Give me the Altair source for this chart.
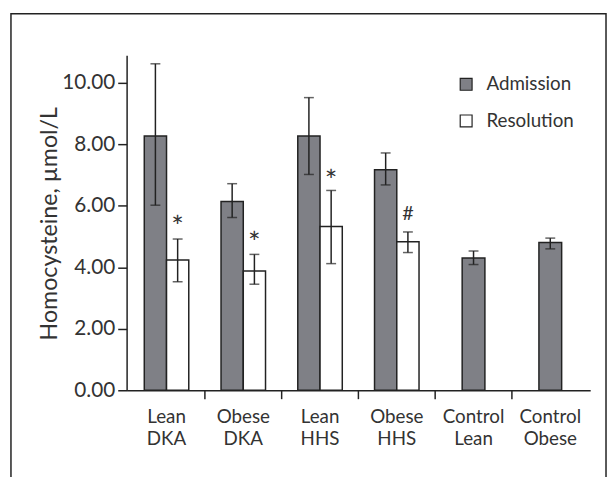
import altair as alt
import pandas as pd

categories = ["Lean DKA", "Obese DKA", "Lean HHS", "Obese HHS", "Control Lean", "Control Obese"]
series = ["Admission", "Resolution"]

admission = [8.27, 6.14, 8.27, 7.17, 4.30, 4.81]
admission_low = [6.02, 5.62, 7.02, 6.68, 4.09, 4.60]
admission_high = [10.62, 6.72, 9.52, 7.72, 4.53, 4.95]

resolution = [4.24, 3.88, 5.33, 4.83]
resolution_low = [3.53, 3.45, 4.12, 4.48]
resolution_high = [4.92, 4.42, 6.50, 5.15]

star_cats = ["Lean DKA", "Obese DKA", "Lean HHS"]
star_y = [4.98, 4.46, 6.49]
hash_cats = ["Obese HHS"]
hash_y = [5.55]

y_ticks = [0, 2, 4, 6, 8, 10]

FONT = "Lato"
INK = "#222222"
GRAY = "#7f8086"
TXT = "#333333"

rows = []
for i, c in enumerate(categories[:4]):
    rows.append({"cat": c, "series": "Admission", "v": admission[i], "lo": admission_low[i], "hi": admission_high[i]})
    rows.append({"cat": c, "series": "Resolution", "v": resolution[i], "lo": resolution_low[i], "hi": resolution_high[i]})
grouped = pd.DataFrame(rows)

control = pd.DataFrame({
    "cat": categories[4:],
    "series": ["Admission", "Admission"],
    "v": admission[4:],
    "lo": admission_low[4:],
    "hi": admission_high[4:],
})

stars = pd.DataFrame({"cat": star_cats, "series": ["Resolution"] * len(star_cats), "txt": ["*"] * len(star_cats), "y": star_y})
hashes = pd.DataFrame({"cat": hash_cats, "series": ["Resolution"] * len(hash_cats), "txt": ["#"] * len(hash_cats), "y": hash_y})
bounds = pd.DataFrame({"cat": categories[1:]})
frame = pd.DataFrame({"a": [0]})

x_axis = alt.Axis(
    title=None, ticks=False, labelExpr="split(datum.label, ' ')", labelLineHeight=22,
    labelFontSize=19, labelFont=FONT, labelColor=TXT, labelPadding=18,
    domainColor=INK, domainWidth=1.5, labelAngle=0,
)
x_scale = alt.Scale(domain=categories, paddingInner=0, paddingOuter=0.02)
X = alt.X("cat:N", sort=categories, scale=x_scale, axis=x_axis)
XOFF = alt.XOffset("series:N", sort=series,
                   scale=alt.Scale(domain=series, paddingInner=0, paddingOuter=0.725))
y_scale = alt.Scale(domain=[0, 10.9], nice=False, zero=True)
y_axis = alt.Axis(
    title="Homocysteine, µmol/L", values=y_ticks, format=".2f", grid=False,
    tickSize=9, tickWidth=1.5, tickColor=INK, domainColor=INK, domainWidth=1.5,
    labelFontSize=21, labelFont=FONT, labelColor=TXT, labelPadding=3,
    titleFontSize=23.5, titleFont=FONT, titleFontWeight="normal", titleColor=TXT,
    titleAngle=270, titleAlign="center", titleBaseline="alphabetic", titleX=-71, titleY=170,
)
fill_scale = alt.Scale(domain=series, range=[GRAY, "#ffffff"])
legend = alt.Legend(
    title=None, orient="none", legendX=334, legendY=20, symbolType="square", symbolSize=144,
    symbolStrokeColor=INK, symbolStrokeWidth=1.2, labelFontSize=19, labelFont=FONT,
    labelColor=TXT, labelOffset=11, rowPadding=17,
)

border = alt.Chart(frame).mark_rect(fillOpacity=0, stroke=INK, strokeWidth=1.5).encode(
    x=alt.value(-117), x2=alt.value(485), y=alt.value(-42), y2=alt.value(520)
)

Yv = alt.Y("v:Q", scale=y_scale, axis=y_axis)
Ylo = alt.Y("lo:Q", scale=y_scale, axis=y_axis)
Yhi = alt.Y("hi:Q", scale=y_scale, axis=y_axis)
F = alt.Fill("series:N", scale=fill_scale, legend=legend)

bars = alt.Chart(grouped).mark_bar(stroke=INK, strokeWidth=1.5).encode(x=X, xOffset=XOFF, y=Yv, fill=F)
bars_c = alt.Chart(control).mark_bar(stroke=INK, strokeWidth=1.5, size=23).encode(x=X, y=Yv, fill=F)
err = alt.Chart(grouped).mark_rule(color=INK, strokeWidth=1.5).encode(x=X, xOffset=XOFF, y=Ylo, y2="hi:Q")
caps_lo = alt.Chart(grouped).mark_tick(color=INK, thickness=1.5, size=10).encode(x=X, xOffset=XOFF, y=Ylo)
caps_hi = alt.Chart(grouped).mark_tick(color=INK, thickness=1.5, size=10).encode(x=X, xOffset=XOFF, y=Yhi)
err_c = alt.Chart(control).mark_rule(color=INK, strokeWidth=1.5).encode(x=X, y=Ylo, y2="hi:Q")
caps_lo_c = alt.Chart(control).mark_tick(color=INK, thickness=1.5, size=10).encode(x=X, y=Ylo)
caps_hi_c = alt.Chart(control).mark_tick(color=INK, thickness=1.5, size=10).encode(x=X, y=Yhi)
star_text = alt.Chart(stars).mark_text(font=FONT, fontSize=30, color=TXT, baseline="alphabetic").encode(
    x=X, xOffset=XOFF, y=alt.Y("y:Q", scale=y_scale, axis=y_axis), text="txt:N"
)
hash_text = alt.Chart(hashes).mark_text(font=FONT, fontSize=20, color=TXT, baseline="alphabetic").encode(
    x=X, xOffset=XOFF, y=alt.Y("y:Q", scale=y_scale, axis=y_axis), text="txt:N"
)
xticks = alt.Chart(bounds).mark_rule(color=INK, strokeWidth=1.5).encode(
    x=alt.X("cat:N", sort=categories, bandPosition=0, scale=x_scale, axis=x_axis),
    y=alt.value(339), y2=alt.value(348),
)

chart = alt.layer(
    border, bars, bars_c, err, caps_lo, caps_hi, err_c, caps_lo_c, caps_hi_c, star_text, hash_text, xticks
).properties(
    width=469, height=339,
    autosize=alt.AutoSizeParams(type="none"),
    padding={"left": 120, "top": 45, "right": 17, "bottom": 85},
    background="white",
).configure_view(stroke=None)

chart.save("out.html", embed_options={"renderer": "svg", "actions": False})
